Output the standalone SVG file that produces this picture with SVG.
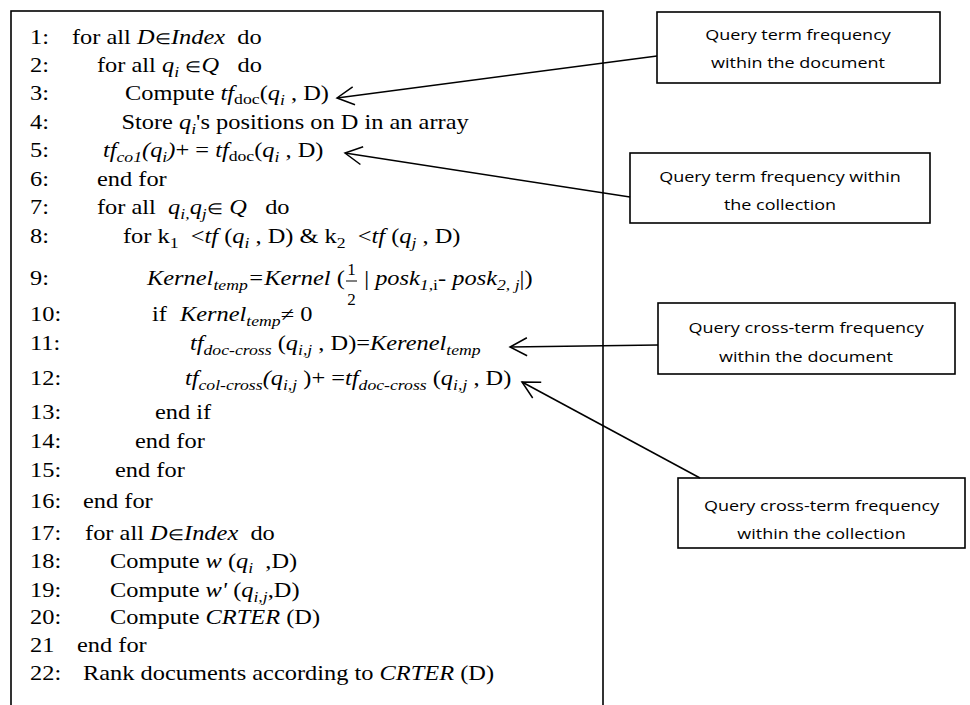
<svg xmlns="http://www.w3.org/2000/svg" width="970" height="705" viewBox="0 0 970 705">
<style>
.t { font-family: "Liberation Serif", "Times New Roman", serif; font-size: 20px; fill: #000; }
.i { font-style: italic; }
.s { font-size: 14.5px; }
.e { font-size: 15px; }
.f { font-family: "Liberation Serif", serif; font-size: 17px; text-anchor: middle; }
.b { font-family: "Open Sans", "Liberation Sans", sans-serif; font-size: 15px; text-anchor: middle; fill: #000; }
.box { fill: #fff; stroke: #000; stroke-width: 1.6; }
.conn { fill: none; stroke: #000; stroke-width: 1.5; marker-end: url(#ah); }
</style>
<defs>
<marker id="ah" markerUnits="userSpaceOnUse" markerWidth="24" markerHeight="24" viewBox="-20 -12 24 24" refX="0" refY="0" orient="auto" overflow="visible">
<path d="M-17,-9 L0,0 L-17,9" fill="none" stroke="#000" stroke-width="1.5"/>
</marker>
</defs>
<rect width="970" height="705" fill="#fff"/>

<g id="algorithm">
<rect class="box" x="11" y="11" width="592" height="720" stroke-width="2"/>
<line x1="346" y1="281" x2="357" y2="281" stroke="#000" stroke-width="1"/>
<text class="f" x="351.5" y="275">1</text>
<text class="f" x="351.5" y="305">2</text>
<g class="t" transform="scale(1.22,1)">
<text x="24.6" y="44">1:</text><text x="59" y="44">for all <tspan class="i">D</tspan><tspan class="e">∈</tspan><tspan class="i">Index</tspan>&#160; do</text>
<text x="24.6" y="72">2:</text><text x="79.5" y="72">for all <tspan class="i">q</tspan><tspan class="i s" dy="5">i</tspan><tspan dy="-5"> </tspan><tspan class="e">∈</tspan><tspan class="i">Q</tspan>&#160;&#160; do</text>
<text x="24.6" y="100">3:</text><text x="102.5" y="100">Compute <tspan class="i">tf</tspan><tspan class="s" dy="4">doc</tspan><tspan dy="-4">(</tspan><tspan class="i">q</tspan><tspan class="i s" dy="5">i</tspan><tspan dy="-5"> , D)</tspan></text>
<text x="24.6" y="129">4:</text><text x="99.5" y="129">Store <tspan class="i">q</tspan><tspan class="i s" dy="5">i</tspan><tspan dy="-5">'s positions on D in an array</tspan></text>
<text x="24.6" y="157">5:</text><text x="84.4" y="157"><tspan class="i">tf</tspan><tspan class="i s" dy="5">co1</tspan><tspan class="i" dy="-5">(q</tspan><tspan class="i s" dy="5">i</tspan><tspan class="i" dy="-5">)</tspan>+ = <tspan class="i">tf</tspan><tspan class="s" dy="4">doc</tspan><tspan dy="-4">(</tspan><tspan class="i">q</tspan><tspan class="i s" dy="5">i</tspan><tspan dy="-5"> , D)</tspan></text>
<text x="24.6" y="186">6:</text><text x="79.5" y="186">end for</text>
<text x="24.6" y="214">7:</text><text x="79.5" y="214">for all&#160; <tspan class="i">q</tspan><tspan class="i s" dy="5">i,</tspan><tspan class="i" dy="-5">q</tspan><tspan class="i s" dy="5">j</tspan><tspan class="e" dy="-5">∈</tspan> <tspan class="i">Q</tspan>&#160;&#160; do</text>
<text x="24.6" y="243">8:</text><text x="100.8" y="243">for k<tspan class="s" dy="5">1</tspan><tspan dy="-5">&#160; &lt;</tspan><tspan class="i">tf</tspan> (<tspan class="i">q</tspan><tspan class="i s" dy="5">i</tspan><tspan dy="-5"> , D) &amp; k</tspan><tspan class="s" dy="5">2</tspan><tspan dy="-5">&#160; &lt;</tspan><tspan class="i">tf</tspan> (<tspan class="i">q</tspan><tspan class="i s" dy="5">j</tspan><tspan dy="-5"> , D)</tspan></text>
<text x="24.6" y="285">9:</text><text x="120.5" y="285"><tspan class="i">Kernel</tspan><tspan class="i s" dy="5">temp</tspan><tspan class="i" dy="-5">=Kernel</tspan> (</text>
<text x="298.5" y="285">| <tspan class="i">posk</tspan><tspan class="i s" dy="5">1,</tspan><tspan class="s">i</tspan><tspan dy="-5">- </tspan><tspan class="i">posk</tspan><tspan class="i s" dy="5">2, j</tspan><tspan dy="-5">|)</tspan></text>
<text x="24.6" y="321">10:</text><text x="124.6" y="321">if</text><text x="147.5" y="321"><tspan class="i">Kernel</tspan><tspan class="i s" dy="5">temp</tspan><tspan dy="-5">≠ 0</tspan></text>
<text x="24.6" y="350">11:</text><text x="155.7" y="350"><tspan class="i">tf</tspan><tspan class="i s" dy="5">doc-cross</tspan><tspan dy="-5"> (</tspan><tspan class="i">q</tspan><tspan class="i s" dy="5">i,j</tspan><tspan dy="-5"> , D)=</tspan><tspan class="i">Kerenel</tspan><tspan class="i s" dy="5">temp</tspan></text>
<text x="24.6" y="385">12:</text><text x="151.6" y="385"><tspan class="i">tf</tspan><tspan class="i s" dy="5">col-cross</tspan><tspan class="i" dy="-5">(q</tspan><tspan class="i s" dy="5">i,j</tspan><tspan dy="-5"> )+ =</tspan><tspan class="i">tf</tspan><tspan class="i s" dy="5">doc-cross</tspan><tspan dy="-5"> (</tspan><tspan class="i">q</tspan><tspan class="i s" dy="5">i,j</tspan><tspan dy="-5"> , D)</tspan></text>
<text x="24.6" y="419">13:</text><text x="127" y="419">end if</text>
<text x="24.6" y="448">14:</text><text x="110.7" y="448">end for</text>
<text x="24.6" y="477">15:</text><text x="94.3" y="477">end for</text>
<text x="24.6" y="508">16:</text><text x="68" y="508">end for</text>
<text x="24.6" y="540">17:</text><text x="69.7" y="540">for all <tspan class="i">D</tspan><tspan class="e">∈</tspan><tspan class="i">Index</tspan>&#160; do</text>
<text x="24.6" y="568">18:</text><text x="90.2" y="568">Compute <tspan class="i">w</tspan> (<tspan class="i">q</tspan><tspan class="i s" dy="5">i</tspan><tspan dy="-5">&#160; ,D)</tspan></text>
<text x="24.6" y="597">19:</text><text x="90.2" y="597">Compute <tspan class="i">w'</tspan> (<tspan class="i">q</tspan><tspan class="i s" dy="5">i,j</tspan><tspan dy="-5">,D)</tspan></text>
<text x="24.6" y="624">20:</text><text x="90.2" y="624">Compute <tspan class="i">CRTER</tspan> (D)</text>
<text x="24.6" y="652">21</text><text x="63.1" y="652">end for</text>
<text x="24.6" y="680">22:</text><text x="68" y="680">Rank documents according to <tspan class="i">CRTER</tspan> (D)</text>
</g>
</g>

<g id="note-tf-doc">
<rect class="box" x="657" y="12" width="283" height="71"/>
<g transform="scale(1.2,1)"><text class="b" x="665" y="40">Query term frequency</text><text class="b" x="665" y="68">within the document</text></g>
</g>
<g id="note-tf-col">
<rect class="box" x="630" y="153" width="300" height="70"/>
<g transform="scale(1.2,1)"><text class="b" x="650" y="182">Query term frequency within</text><text class="b" x="650" y="210">the collection</text></g>
</g>
<g id="note-cross-doc">
<rect class="box" x="658" y="303" width="297" height="71"/>
<g transform="scale(1.2,1)"><text class="b" x="671.7" y="333">Query cross-term frequency</text><text class="b" x="671.7" y="362">within the document</text></g>
</g>
<g id="note-cross-col">
<rect class="box" x="678" y="478" width="287" height="70"/>
<g transform="scale(1.2,1)"><text class="b" x="684.6" y="511">Query cross-term frequency</text><text class="b" x="684.6" y="539">within the collection</text></g>
</g>

<g id="connectors">
<path class="conn" d="M657,56 L337,98"/>
<path class="conn" d="M630,197 L345,153"/>
<path class="conn" d="M658,345 L510,347"/>
<path class="conn" d="M700,478 L522,382"/>
</g>
</svg>
